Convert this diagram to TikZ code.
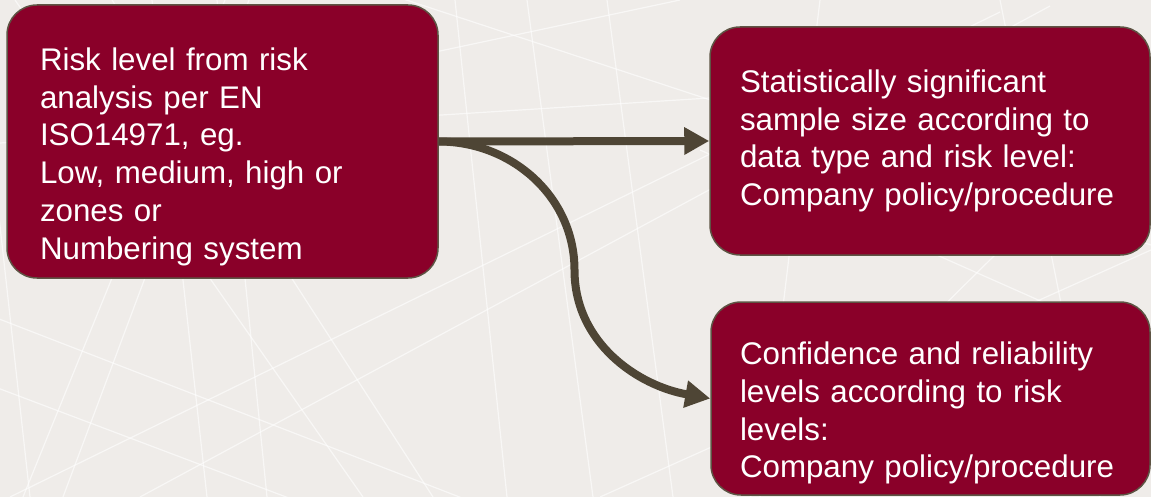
\documentclass[tikz,border=0pt]{standalone}
\usepackage{fontspec}
\setmainfont{Liberation Sans}
\usetikzlibrary{arrows.meta,calc}

\definecolor{paper}{HTML}{EFECE9}
\definecolor{wine}{HTML}{8A0029}
\definecolor{rim}{HTML}{5E5444}
\definecolor{umber}{HTML}{4E4535}

\begin{document}
\begin{tikzpicture}[x=1pt,y=-1pt,
    box/.style={draw=rim,line width=1.5pt,fill=wine,rounded corners=30pt,
      text=white,font=\fontsize{31.3}{37.7}\selectfont,align=left,inner ysep=0pt},
    link/.style={draw=umber,line width=8pt,-{Triangle[length=25pt,width=26pt]}}]
  \useasboundingbox (0,0) rectangle (1151,497);
  \fill[paper] (0,0) rectangle (1151,497);
  % faint lines on the paper
  \begin{scope}
    \clip (0,0) rectangle (1151,497);
    \foreach \a/\b/\c/\d in {-50/300/700/590, -50/370/400/540, 10/497/1000/12,
        140/497/1050/6, -25/0/30/497, 152/0/207/497, 217/0/267/497, 455/0/507/497,
        15/0/363/497, 112/0/433/497, 249/0/63/497, 225/0/23/497, 300/-35/1151/245,
        200/102/680/0, 0/143/1151/70, 527/0/593/497, 607/0/673/497, 600/497/1151/250,
        750/497/1000/250, 700/150/1151/350, 1000/0/1100/497, 820/0/760/497}
      \draw[white,opacity=0.6,line width=1.2pt] (\a,\b) -- (\c,\d);
  \end{scope}

  \node[box,minimum width=431pt,minimum height=273pt,text width=365pt,inner xsep=33pt]
    (risk) at (222.5,141.5) {\rule{0pt}{53pt}Risk level from risk\\analysis per EN\\
    ISO14971, eg.\\Low, medium, high or\\zones or\\Numbering system};
  \node[box,minimum width=440pt,minimum height=228pt,text width=380pt,inner xsep=30pt]
    (sample) at (930,141) {Statistically significant\\sample size according to\\
    data type and risk level:\\Company policy/procedure};
  \node[box,minimum width=439pt,minimum height=193pt,text width=381pt,inner xsep=29pt]
    (conf) at (930.5,398.5) {\rule{0pt}{52pt}Confidence and reliability\\
    levels according to risk\\levels:\\Company policy/procedure};

  \draw[link] (risk.east) -- (sample.west);
  \draw[link] (risk.east) to[out=0,in=90] ($(risk.east)!0.5!(conf.west)$)
    to[out=270,in=170] (conf.west);
\end{tikzpicture}
\end{document}
